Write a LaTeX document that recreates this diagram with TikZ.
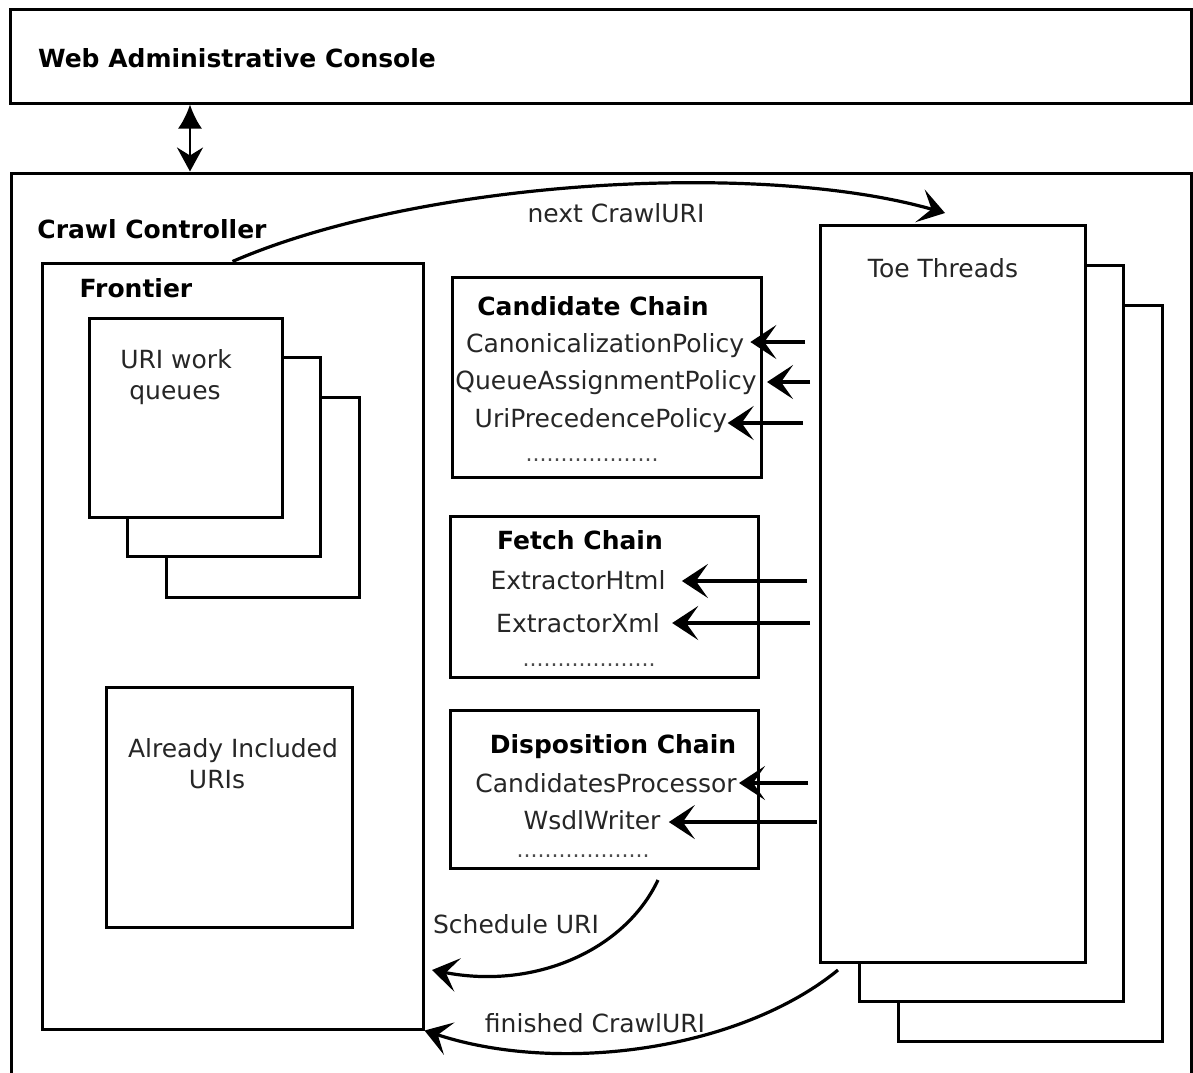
\documentclass[tikz,border=0pt]{standalone}
\usepackage{fontspec}
\setmainfont{DejaVu Sans}
\usetikzlibrary{arrows.meta,fit}
\begin{document}
\begin{tikzpicture}[x=0.5pt,y=-0.5pt,
  box/.style={draw, line width=1.5pt, inner sep=0pt, fill=white},
  lbl/.style={font=\fontsize{12.5}{15}\selectfont, text=black!85, inner sep=0pt, anchor=base},
  ttl/.style={font=\fontsize{12.5}{15}\selectfont\bfseries, text=black, inner sep=0pt, anchor=base},
  dotrow/.style={font=\fontsize{11}{13}\selectfont, text=black!70, inner sep=0pt, anchor=base},
  arr/.style={line width=1.6pt, -{Stealth[length=13pt,width=17pt,inset=6pt]}},
  dblarr/.style={line width=1.2pt, {Latex[length=12pt,width=12pt]}-{Stealth[length=12pt,width=13pt,inset=4pt]}}
]
\useasboundingbox (0,0) rectangle (1193,1072);

% outer boxes
\node[box, fit={(10,9)(1191,103)}] (web) {};
\begin{scope}
  \clip (0,0) rectangle (1193,1072);
  \node[box, fit={(11,173)(1191,1100)}] (crawl) {};
\end{scope}
\node[ttl] (webt) at (237,67) {Web Administrative Console};
\node[ttl] (crawlt) at (152,238) {Crawl Controller};

% web <-> crawl
\coordinate (xa) at (190,0);
\draw[dblarr] (web.south -| xa) -- (crawl.north -| xa);

% frontier
\node[box, fit={(42,263)(423,1029)}] (frontier) {};
\node[ttl] (frontt) at (136,297) {Frontier};
\node[box, fit={(166,397)(359,597)}] (q3) {};
\node[box, fit={(127,357)(320,556)}] (q2) {};
\node[box, fit={(89,318)(282,517)}] (q1) {};
\node[lbl] (q1a) at (176,368) {URI work};
\node[lbl] (q1b) at (175,399) {queues};
\node[box, fit={(106,687)(352,927)}] (included) {};
\node[lbl] (inca) at (233,757) {Already Included};
\node[lbl] (incb) at (217,788) {URIs};

% chains
\node[box, fit={(452,277)(761,477)}] (cand) {};
\node[ttl] (candt) at (593,315) {Candidate Chain};
\node[lbl] (cp1) at (605,352) {CanonicalizationPolicy};
\node[lbl] (cp2) at (606,389) {QueueAssignmentPolicy};
\node[lbl] (cp3) at (601,427) {UriPrecedencePolicy};
\node[dotrow] (cpd) at (592,461) {...................};

\node[box, fit={(450,516)(758,677)}] (fetch) {};
\node[ttl] (fetcht) at (580,549) {Fetch Chain};
\node[lbl] (fp1) at (578,589) {ExtractorHtml};
\node[lbl] (fp2) at (578,632) {ExtractorXml};
\node[dotrow] (fpd) at (589,666) {...................};

\node[box, fit={(450,710)(758,868)}] (disp) {};
\node[ttl] (dispt) at (613,753) {Disposition Chain};
\node[lbl] (dp1) at (606,792) {CandidatesProcessor};
\node[lbl] (dp2) at (592,829) {WsdlWriter};
\node[dotrow] (dpd) at (583,857) {...................};

% toe threads
\node[box, fit={(898,305)(1162,1041)}] (t3) {};
\node[box, fit={(859,265)(1123,1001)}] (t2) {};
\node[box, fit={(820,225)(1085,962)}] (t1) {};
\node[lbl] (toet) at (943,277) {Toe Threads};

% arrows from toe threads to processors
\coordinate (s1) at (805,342);
\coordinate (s2) at (810,382);
\coordinate (s3) at (803,423);
\coordinate (s4) at (807,581);
\coordinate (s5) at (810,623);
\coordinate (s6) at (808,783);
\coordinate (s7) at (817,822);
\draw[arr] (s1) -- ([xshift=3pt]s1 -| cp1.east);
\draw[arr] (s2) -- ([xshift=5pt]s2 -| cp2.east);
\draw[arr] (s3) -- ([xshift=0pt]s3 -| cp3.east);
\draw[arr] (s4) -- ([xshift=8pt]s4 -| fp1.east);
\draw[arr] (s5) -- ([xshift=6pt]s5 -| fp2.east);
\draw[arr] (s6) -- ([xshift=1pt]s6 -| dp1.east);
\draw[arr] (s7) -- ([xshift=4pt]s7 -| dp2.east);

% curved flows
\coordinate (nx) at (945,213);
\draw[arr] (frontier.north) .. controls (420,180) and (760,160) .. (nx);
\node[lbl] (nxt) at (616,222) {next CrawlURI};

\coordinate (sc0) at (658,880);
\coordinate (sc1) at (432,970);
\draw[arr] (sc0) .. controls (625,950) and (535,990) .. (sc1);
\node[lbl] (sct) at (516,933) {Schedule URI};

\coordinate (fn0) at (838,970);
\draw[arr] (fn0) .. controls (740,1050) and (560,1075) .. (frontier.south east);
\node[lbl] (fnt) at (595,1032) {finished CrawlURI};
\end{tikzpicture}
\end{document}
